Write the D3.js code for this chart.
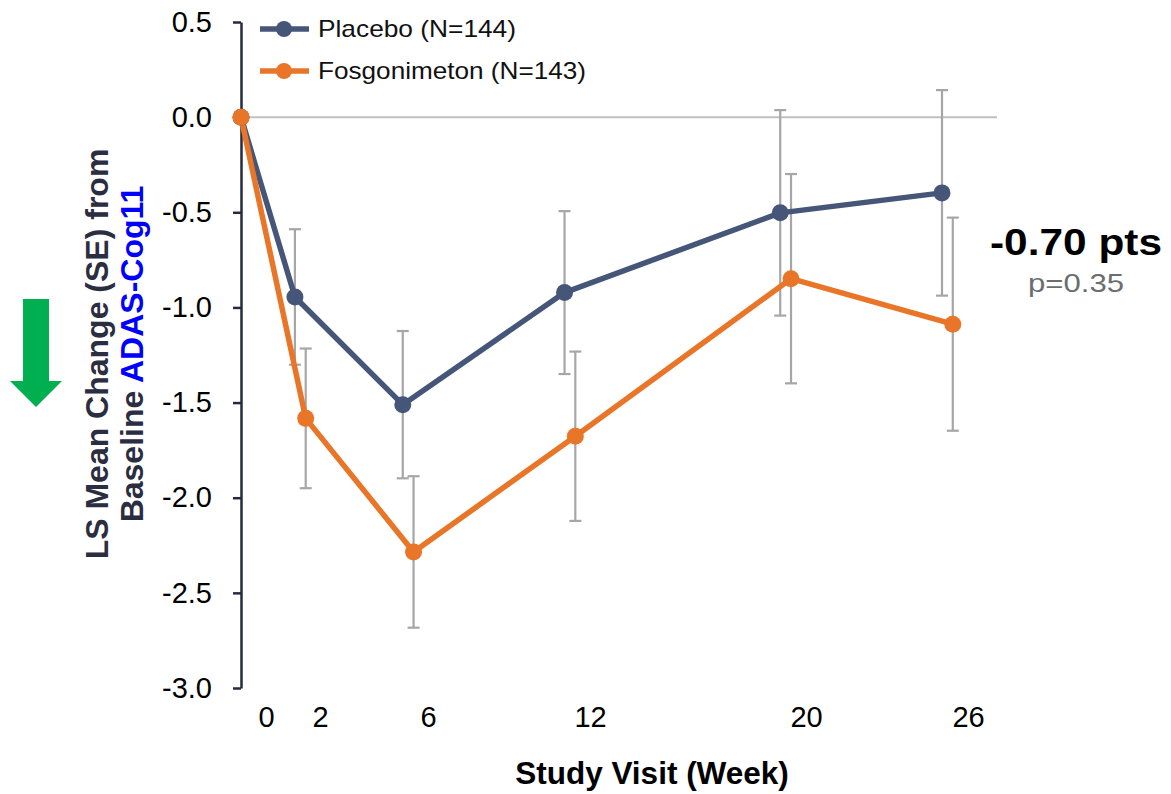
<!DOCTYPE html>
<html>
<head>
<meta charset="utf-8">
<script src="https://cdn.jsdelivr.net/npm/d3@7"></script>
<style>
  html, body { margin: 0; padding: 0; background: #fff; }
  svg { display: block; font-family: "Liberation Sans", Arial, sans-serif; }
</style>
</head>
<body>
<svg id="chart" width="1171" height="794"></svg>
<script>
// Visit schedule (weeks) and LS mean change from baseline with standard errors
const weeks = [0, 2, 6, 12, 20, 26];
const placeboMean = [0, -0.945, -1.511, -0.922, -0.503, -0.398];
const placeboSE   = [0, 0.356, 0.387, 0.428, 0.540, 0.540];
const fosgMean    = [0, -1.583, -2.285, -1.677, -0.849, -1.088];
const fosgSE      = [0, 0.367, 0.398, 0.445, 0.550, 0.560];

const weekTicks = [0, 2, 6, 12, 20, 26];
const yTicks = [0.5, 0, -0.5, -1, -1.5, -2, -2.5, -3];
const seriesNames = ["Placebo (N=144)", "Fosgonimeton (N=143)"];
const diffLabel = "-0.70 pts";
const pLabel = "p=0.35";
const yTitle1 = "LS Mean Change (SE) from";
const yTitle2a = "Baseline ";
const yTitle2b = "ADAS-Cog11";
const xTitle = "Study Visit (Week)";

const navy = "#455678";
const orange = "#e97628";
const barGrey = "#a6a6a6";
const axisCol = "#262a3e";

const svg = d3.select("#chart");

// Scales
const x = d3.scaleLinear().domain([0, 26]).range([241, 942]);
const xLabel = d3.scaleLinear().domain([0, 26]).range([266, 968]);
const y = d3.scaleLinear().domain([-3, 0.5]).range([688, 22]);
const dodge = 0.4; // small horizontal offset (weeks) so the two arms don't overlap

const series = [
  { name: seriesNames[0], color: navy,
    pts: weeks.map((w, i) => ({ w, xw: w, m: placeboMean[i], se: placeboSE[i] })) },
  { name: seriesNames[1], color: orange,
    pts: weeks.map((w, i) => ({ w, xw: i === 0 ? w : w + dodge, m: fosgMean[i], se: fosgSE[i] })) }
];

// Zero reference line
svg.append("line")
  .attr("x1", x(0)).attr("x2", 997)
  .attr("y1", y(0)).attr("y2", y(0))
  .attr("stroke", "#c0c0c0").attr("stroke-width", 2);

// Y axis
const yAxis = d3.axisLeft(y)
  .tickValues(yTicks)
  .tickSize(8)
  .tickSizeOuter(0)
  .tickPadding(21)
  .tickFormat(d => d.toFixed(1));

const gy = svg.append("g")
  .attr("transform", `translate(${x(0)},0)`)
  .call(yAxis);
gy.select(".domain").attr("stroke", axisCol).attr("stroke-width", 2.5);
gy.selectAll(".tick line").attr("stroke", axisCol).attr("stroke-width", 2.5);
gy.selectAll(".tick text")
  .attr("fill", "#000")
  .style("font-size", "29px");

// X axis labels only (no axis line)
const xAxis = d3.axisBottom(xLabel)
  .tickValues(weekTicks)
  .tickSize(0)
  .tickPadding(0)
  .tickFormat(d3.format("d"));
const gx = svg.append("g")
  .attr("transform", "translate(0,706)")
  .call(xAxis);
gx.select(".domain").remove();
gx.selectAll(".tick text")
  .attr("fill", "#000")
  .attr("dy", "0.72em")
  .style("font-size", "29px");

// Error bars
const capHalf = 6;
series.forEach(s => {
  const g = svg.append("g").attr("stroke", barGrey).attr("stroke-width", 2.2);
  s.pts.filter(p => p.se > 0).forEach(p => {
    const cx = x(p.xw);
    const top = y(p.m + p.se), bot = y(p.m - p.se);
    g.append("line").attr("x1", cx).attr("x2", cx).attr("y1", top).attr("y2", bot);
    g.append("line").attr("x1", cx - capHalf).attr("x2", cx + capHalf).attr("y1", top).attr("y2", top);
    g.append("line").attr("x1", cx - capHalf).attr("x2", cx + capHalf).attr("y1", bot).attr("y2", bot);
  });
});

// Lines
const line = d3.line().x(p => x(p.xw)).y(p => y(p.m));
series.forEach(s => {
  svg.append("path")
    .datum(s.pts)
    .attr("fill", "none")
    .attr("stroke", s.color)
    .attr("stroke-width", 5.5)
    .attr("stroke-linejoin", "round")
    .attr("d", line);
});

// Markers (placebo first, treatment drawn on top)
series.forEach(s => {
  svg.append("g").selectAll("circle")
    .data(s.pts)
    .join("circle")
    .attr("cx", p => x(p.xw))
    .attr("cy", p => y(p.m))
    .attr("r", 8.5)
    .attr("fill", s.color);
});

// Legend
const legend = svg.append("g");
const legendRows = [29, 71];
const legendWidths = [198, 268];
series.forEach((s, i) => {
  const ly = legendRows[i];
  legend.append("line")
    .attr("x1", 260).attr("x2", 309).attr("y1", ly).attr("y2", ly)
    .attr("stroke", s.color).attr("stroke-width", 5.5);
  legend.append("circle").attr("cx", 284).attr("cy", ly).attr("r", 8).attr("fill", s.color);
  legend.append("text")
    .attr("x", 318).attr("y", ly + 7.5)
    .attr("fill", "#111")
    .attr("textLength", legendWidths[i])
    .attr("lengthAdjust", "spacingAndGlyphs")
    .style("font-size", "24px")
    .text(s.name);
});

// Treatment difference annotation
svg.append("text")
  .attr("x", 990).attr("y", 255)
  .attr("textLength", 172).attr("lengthAdjust", "spacingAndGlyphs")
  .attr("fill", "#000")
  .style("font-size", "37px").style("font-weight", "bold")
  .text(diffLabel);
svg.append("text")
  .attr("x", 1028).attr("y", 292)
  .attr("textLength", 96).attr("lengthAdjust", "spacingAndGlyphs")
  .attr("fill", "#6b6e70")
  .style("font-size", "25px")
  .text(pLabel);

// Y axis title (two lines, rotated)
const yt = svg.append("g").attr("transform", "translate(0,354) rotate(-90)");
yt.append("text")
  .attr("x", 0).attr("y", 108)
  .attr("text-anchor", "middle")
  .attr("fill", "#2b2d40")
  .style("font-size", "32px").style("font-weight", "bold")
  .text(yTitle1);
const t2 = yt.append("text")
  .attr("x", 0).attr("y", 143)
  .attr("text-anchor", "middle")
  .style("font-size", "32px").style("font-weight", "bold");
t2.append("tspan").attr("fill", "#2b2d40").text(yTitle2a);
t2.append("tspan").attr("fill", "#0000ff").text(yTitle2b);

// X axis title
svg.append("text")
  .attr("x", 652).attr("y", 784)
  .attr("text-anchor", "middle")
  .attr("fill", "#000")
  .style("font-size", "31.5px").style("font-weight", "bold")
  .text(xTitle);

// Downward "improvement" arrow
svg.append("path")
  .attr("d", "M23,299 L49,299 L49,381 L62,381 L36,407 L10,381 L23,381 Z")
  .attr("fill", "#00b050");
</script>
</body>
</html>
